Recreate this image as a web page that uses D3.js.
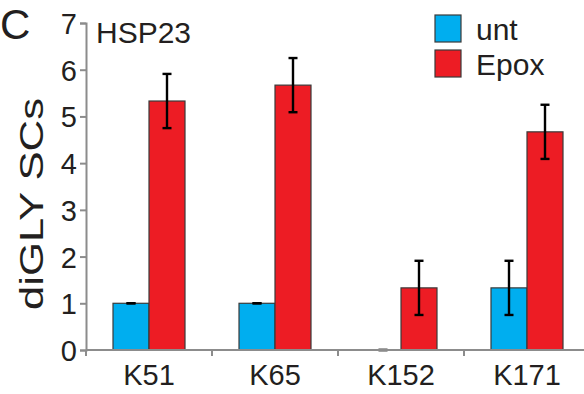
<!DOCTYPE html>
<html><head><meta charset="utf-8">
<script src="https://cdn.jsdelivr.net/npm/d3@7"></script>
<style>body{margin:0;background:#fff}svg{display:block}text{font-family:"Liberation Sans",Arial,Helvetica,sans-serif;fill:#231f20}</style>
</head><body>
<svg id="c" width="584" height="394"></svg>
<script>
const categories = ["K51", "K65", "K152", "K171"];
const seriesNames = ["unt", "Epox"];
const untValues = [1, 1, 0, 1.33];
const untErrors = [0, 0, 0, 0.58];
const epoxValues = [5.33, 5.67, 1.33, 4.67];
const epoxErrors = [0.58, 0.58, 0.58, 0.58];
const yTicks = [0, 1, 2, 3, 4, 5, 6, 7];
const colors = ["#00aeef", "#ed1c24"];
const panelLetter = "C";
const title = "HSP23";
const yLabel = "diGLY SCs";

const svg = d3.select("#c");
const x0 = d3.scaleBand().domain(categories).range([86, 590]).paddingInner(0).paddingOuter(0);
const x1 = d3.scaleBand().domain(seriesNames).range([0, x0.bandwidth()]).paddingInner(0).paddingOuter(0.75);
const y = d3.scaleLinear().domain([0, 7]).range([350, 23]);
const color = d3.scaleOrdinal().domain(seriesNames).range(colors);

const data = categories.map((c, i) => ({
  cat: c,
  vals: [
    {s: "unt", v: untValues[i], e: untErrors[i]},
    {s: "Epox", v: epoxValues[i], e: epoxErrors[i]}
  ]
}));

// bars
const g = svg.append("g");
const groups = g.selectAll("g.grp").data(data).join("g")
  .attr("transform", d => `translate(${x0(d.cat)},0)`);
groups.selectAll("rect").data(d => d.vals).join("rect")
  .attr("x", d => x1(d.s))
  .attr("y", d => y(d.v))
  .attr("width", x1.bandwidth())
  .attr("height", d => y(0) - y(d.v))
  .attr("fill", d => color(d.s))
  .attr("stroke", "#3a3a3a")
  .attr("stroke-width", 1.2);

// axes
const yAxis = d3.axisLeft(y).tickValues(yTicks).tickSize(6).tickPadding(3).tickFormat(d3.format("d"));
const ya = svg.append("g").attr("transform", "translate(86,0)").call(yAxis);
ya.select(".domain").attr("stroke", "#8c8c8c").attr("stroke-width", 2);
ya.selectAll(".tick line").attr("stroke", "#8c8c8c").attr("stroke-width", 2);
ya.selectAll(".tick text").attr("font-size", 29).attr("fill", "#231f20").attr("dy", "0.36em")
  .style("font-family", '"Liberation Sans",Arial,sans-serif');

const xa = svg.append("g").attr("transform", "translate(0,350)");
xa.append("line").attr("x1", 86).attr("x2", 590).attr("y1", 0).attr("y2", 0)
  .attr("stroke", "#8c8c8c").attr("stroke-width", 2);
xa.selectAll("line.t").data(categories).join("line").attr("class", "t")
  .attr("x1", d => x0(d)).attr("x2", d => x0(d)).attr("y1", 0).attr("y2", 6)
  .attr("stroke", "#8c8c8c").attr("stroke-width", 2);
xa.selectAll("text").data(categories).join("text")
  .attr("x", d => x0(d) + x0.bandwidth() / 2).attr("y", 35)
  .attr("text-anchor", "middle").attr("font-size", 29).text(d => d);

// error bars
const eb = groups.selectAll("g.eb").data(d => d.vals).join("g")
  .attr("transform", d => `translate(${x1(d.s) + x1.bandwidth() / 2},0)`);
eb.append("line").attr("x1", 0).attr("x2", 0)
  .attr("y1", d => y(d.v + d.e)).attr("y2", d => y(d.v - d.e))
  .attr("stroke", "#000").attr("stroke-width", 2.4);
eb.selectAll("line.cap").data(d => [d.v + d.e, d.v - d.e]).join("line").attr("class", "cap")
  .attr("x1", -4.5).attr("x2", 4.5).attr("y1", d => y(d)).attr("y2", d => y(d))
  .attr("stroke", "#000").attr("stroke-width", 2.4);

// texts
svg.append("text").attr("x", 0).attr("y", 39).attr("font-size", 42).text(panelLetter);
svg.append("text").attr("x", 96).attr("y", 43).attr("font-size", 30).text(title);
svg.append("text").attr("transform", "translate(43,204) rotate(-90)")
  .attr("text-anchor", "middle").attr("font-size", 34)
  .attr("textLength", 212).attr("lengthAdjust", "spacingAndGlyphs").text(yLabel);

// legend
const leg = svg.append("g");
const legItems = leg.selectAll("g").data(seriesNames).join("g")
  .attr("transform", (d, i) => `translate(435,${15 + i * 35})`);
legItems.append("rect").attr("width", 26).attr("height", 27)
  .attr("fill", d => color(d)).attr("stroke", "#3a3a3a").attr("stroke-width", 1.2);
legItems.append("text").attr("x", 41).attr("y", 25).attr("font-size", 30).text(d => d);
</script>
</body></html>
